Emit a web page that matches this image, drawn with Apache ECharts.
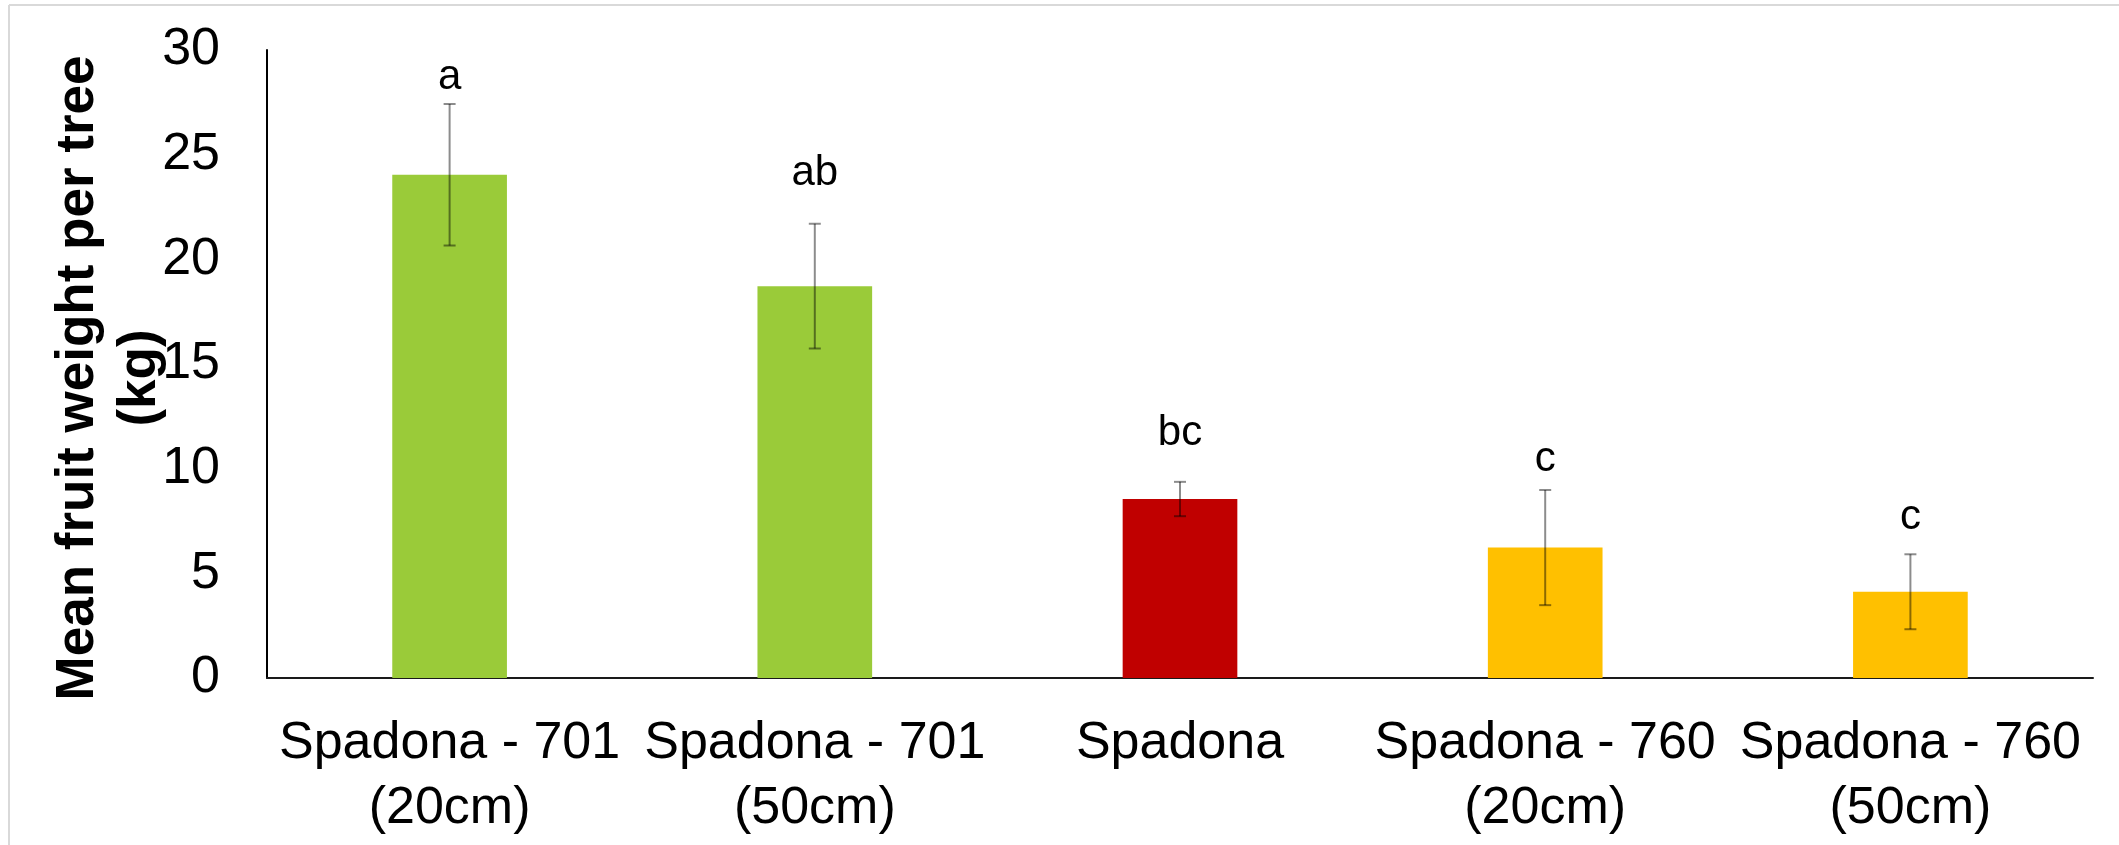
<!DOCTYPE html>
<html>
<head>
<meta charset="utf-8">
<script src="https://cdn.jsdelivr.net/npm/echarts@6/dist/echarts.min.js"></script>
<style>
html,body{margin:0;padding:0;background:#fff;}
#chart{width:2119px;height:845px;}
</style>
</head>
<body>
<div id="chart"></div>
<script>
// ---- data ----
const categories = [
  "Spadona - 701\n(20cm)",
  "Spadona - 701\n(50cm)",
  "Spadona",
  "Spadona - 760\n(20cm)",
  "Spadona - 760\n(50cm)"
];
const meanWeight = [24.04, 18.72, 8.55, 6.23, 4.12];
const stdErr = [3.38, 2.98, 0.82, 2.75, 1.79];
const letters = ["a", "ab", "bc", "c", "c"];
const letterPos = [28.14, 23.52, 11.13, 9.85, 7.12];
const barColors = ["#9ACB39", "#9ACB39", "#C00000", "#FFC000", "#FFC000"];
const yTicks = [0, 5, 10, 15, 20, 25, 30];
const yTitle = "Mean fruit weight per tree\n(kg)";

const FONT = '"Liberation Sans", Arial, Helvetica, sans-serif';

const chart = echarts.init(document.getElementById('chart'), null, {renderer: 'canvas'});

const option = {
  backgroundColor: '#ffffff',
  animation: false,
  graphic: [
    {type: 'line', shape: {x1: 9, y1: 5, x2: 2119, y2: 5}, style: {stroke: '#d9d9d9', lineWidth: 2}, silent: true},
    {type: 'line', shape: {x1: 9, y1: 5, x2: 9, y2: 845}, style: {stroke: '#d9d9d9', lineWidth: 2}, silent: true}
  ],
  grid: {left: 267, right: 26, top: 50, bottom: 167, containLabel: false},
  xAxis: {
    type: 'category',
    data: categories,
    axisLine: {show: true, lineStyle: {color: '#1a1a1a', width: 2}},
    axisTick: {show: false},
    axisLabel: {
      interval: 0,
      color: '#000',
      fontFamily: FONT,
      fontSize: 52,
      lineHeight: 65,
      margin: 33
    },
    splitLine: {show: false}
  },
  yAxis: {
    type: 'value',
    min: yTicks[0],
    max: yTicks[yTicks.length - 1],
    interval: yTicks[1] - yTicks[0],
    axisLine: {show: true, lineStyle: {color: '#000', width: 2}},
    axisTick: {show: false},
    splitLine: {show: false},
    axisLabel: {color: '#000', fontFamily: FONT, fontSize: 52, margin: 47},
    name: yTitle,
    nameLocation: 'middle',
    nameRotate: 90,
    nameGap: 96,
    nameMoveOverlap: false,
    nameTextStyle: {
      color: '#000',
      fontFamily: FONT,
      fontSize: 53,
      fontWeight: 'bold',
      lineHeight: 62,
      align: 'center',
      padding: [0, 28, 0, 0]
    }
  },
  series: [
    {
      type: 'bar',
      data: meanWeight.map((v, i) => ({value: v, itemStyle: {color: barColors[i]}})),
      barWidth: '31.4%',
      z: 2
    },
    {
      type: 'custom',
      z: 3,
      data: meanWeight.map((v, i) => [i, v, stdErr[i]]),
      renderItem: function (params, api) {
        const x = api.coord([api.value(0), 0])[0];
        const top = api.coord([api.value(0), api.value(1) + api.value(2)])[1];
        const bot = api.coord([api.value(0), api.value(1) - api.value(2)])[1];
        const hw = 6;
        const st = {stroke: 'rgba(0,0,0,0.45)', lineWidth: 2};
        return {
          type: 'group',
          children: [
            {type: 'line', shape: {x1: x, y1: top, x2: x, y2: bot}, style: st},
            {type: 'line', shape: {x1: x - hw, y1: top, x2: x + hw, y2: top}, style: st},
            {type: 'line', shape: {x1: x - hw, y1: bot, x2: x + hw, y2: bot}, style: st}
          ]
        };
      }
    },
    {
      type: 'custom',
      z: 4,
      data: letterPos.map((v, i) => [i, v]),
      renderItem: function (params, api) {
        const p = api.coord([api.value(0), api.value(1)]);
        return {
          type: 'text',
          x: p[0],
          y: p[1] - 12,
          style: {
            text: letters[params.dataIndex],
            fill: '#000',
            font: '42px ' + FONT,
            align: 'center',
            verticalAlign: 'middle'
          }
        };
      }
    }
  ]
};
chart.setOption(option);
</script>
</body>
</html>
